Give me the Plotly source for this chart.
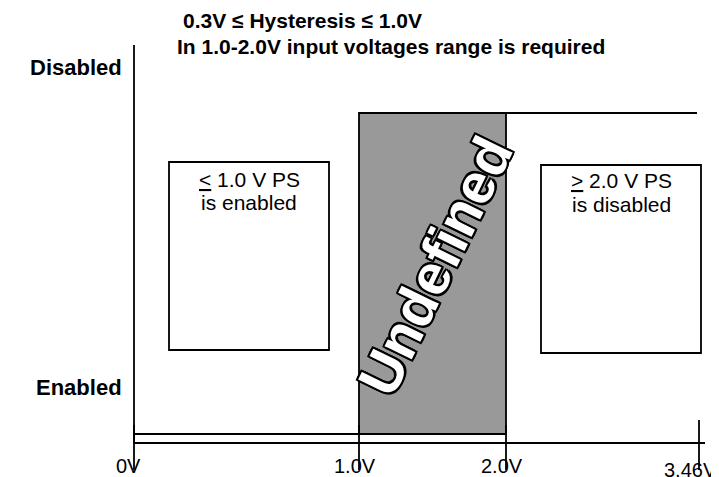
import plotly.graph_objects as go

# ---- data ----
tick_voltages = [0.0, 1.0, 2.0, 3.46]
tick_labels = ["0V", "1.0V", "2.0V", "3.46V"]
state_levels = [0, 1]                 # 0 = Enabled, 1 = Disabled
state_labels = ["Enabled", "Disabled"]
undefined_range = [1.0, 2.0]          # volts
disabled_min = 2.0
title_lines = ["0.3V \u2264 Hysteresis \u2264 1.0V",
               "In 1.0-2.0V input voltages range is required"]
left_box_lines = ["<u>&lt;</u> 1.0 V PS", "is enabled"]
right_box_lines = ["<u>&gt;</u> 2.0 V PS", "is disabled"]
undefined_label = "Undefined"

# ---- schematic (non-linear) voltage axis: layout mapping ----
_seg_v = [0.0, 1.0, 2.0, 3.46]
_seg_x = [0.0, 225.0, 372.0, 565.0]


def vx(v):
    for i in range(len(_seg_v) - 1):
        if v <= _seg_v[i + 1] or i == len(_seg_v) - 2:
            t = (v - _seg_v[i]) / (_seg_v[i + 1] - _seg_v[i])
            return _seg_x[i] + t * (_seg_x[i + 1] - _seg_x[i])


# layout helpers: page pixel -> axis units (page has an 8px body margin)
def px(p):
    return p - 134.0


def py(p):
    return (434.0 - p) / 321.0


FONT = "Liberation Sans, Arial, sans-serif"
LW = 1.8
lo, hi = state_levels
gap = py(443)

shapes = []
# undefined (gray) region
shapes.append(dict(type="rect", x0=vx(undefined_range[0]), x1=vx(undefined_range[1]),
                   y0=lo, y1=hi, fillcolor="#999999",
                   line=dict(color="black", width=LW), layer="below"))
# disabled level line
shapes.append(dict(type="line", x0=vx(disabled_min), x1=vx(tick_voltages[-1]) - 2,
                   y0=hi, y1=hi, line=dict(color="black", width=LW)))
# vertical state axis
shapes.append(dict(type="line", x0=vx(0), x1=vx(0), y0=py(45), y1=gap,
                   line=dict(color="black", width=LW)))
# double rail at bottom
shapes.append(dict(type="line", x0=vx(0), x1=vx(undefined_range[1]), y0=lo, y1=lo,
                   line=dict(color="black", width=LW)))
shapes.append(dict(type="line", x0=vx(0), x1=vx(tick_voltages[-1]) + 6, y0=gap, y1=gap,
                   line=dict(color="black", width=LW)))
# ticks
for i, v in enumerate(tick_voltages):
    shapes.append(dict(type="line", x0=vx(v), x1=vx(v),
                       y0=py(425 if i < 3 else 420), y1=py(470),
                       line=dict(color="black", width=LW)))
# boxes
shapes.append(dict(type="rect", x0=px(169), x1=px(329), y0=py(350), y1=py(162),
                   line=dict(color="black", width=LW), fillcolor="white"))
shapes.append(dict(type="rect", x0=px(541), x1=px(701), y0=py(353), y1=py(165),
                   line=dict(color="black", width=LW), fillcolor="white"))

annotations = []
offs = [-6, -4, -4, -9]
for i, (v, lab, o) in enumerate(zip(tick_voltages, tick_labels, offs)):
    annotations.append(dict(x=vx(v) + o, y=py(466 if i < 3 else 470), text=lab,
                            showarrow=False, xanchor="center", yanchor="middle",
                            font=dict(family=FONT, size=20, color="black")))


def label(x, y, text, size=21, bold=False, anchor="center", color="black"):
    t = "<b>%s</b>" % text if bold else text
    return dict(x=x, y=y, text=t, showarrow=False, xanchor=anchor, yanchor="middle",
                font=dict(family=FONT, size=size, color=color))


annotations.append(label(px(124), py(67), state_labels[1], size=22, bold=True, anchor="right"))
annotations.append(label(px(124), py(387), state_labels[0], size=22, bold=True, anchor="right"))
annotations.append(label(px(181), py(20), title_lines[0], bold=True, anchor="left"))
annotations.append(label(px(175), py(46), title_lines[1], bold=True, anchor="left"))
annotations.append(label(px(249), py(179), left_box_lines[0]))
annotations.append(label(px(249), py(202), left_box_lines[1]))
annotations.append(label(px(621), py(180), right_box_lines[0]))
annotations.append(label(px(621), py(204), right_box_lines[1]))
annotations.append(dict(x=px(435), y=py(266), text="<b>%s</b>" % undefined_label,
                        showarrow=False, textangle=-64, xanchor="center", yanchor="middle",
                        font=dict(family=FONT, size=57, color="white",
                                  shadow="2px 2px 0 #000, -2px -2px 0 #000, 2px -2px 0 #000, "
                                         "-2px 2px 0 #000, 0 2px 0 #000, 2px 0 0 #000, "
                                         "0 -2px 0 #000, -2px 0 0 #000")))

fig = go.Figure()
fig.update_layout(
    width=711, height=469,
    margin=dict(l=0, r=0, t=0, b=0),
    paper_bgcolor="white", plot_bgcolor="white",
    xaxis=dict(range=[px(8), px(719)], visible=False, fixedrange=True),
    yaxis=dict(range=[py(477), py(8)], visible=False, fixedrange=True),
    shapes=shapes, annotations=annotations, showlegend=False,
)
fig.write_html("out.html")
